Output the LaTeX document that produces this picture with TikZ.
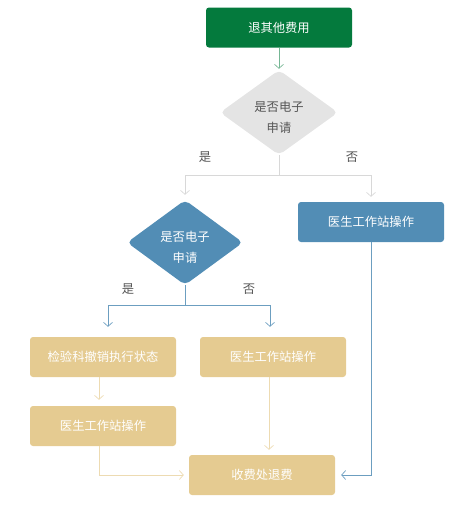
\documentclass[tikz,border=0pt]{standalone}
\usepackage{fontspec}
\newfontfamily\cjk{Noto Sans CJK SC}
\usetikzlibrary{positioning,arrows.meta,calc,shapes.geometric}
\definecolor{fGreen}{HTML}{047A3D}
\definecolor{fGray}{HTML}{E4E4E4}
\definecolor{fBlue}{HTML}{528DB5}
\definecolor{fGold}{HTML}{E5CB91}
\definecolor{fText}{HTML}{555555}
\tikzset{
 boxnode/.style={rounded corners=3pt, minimum width=146pt, minimum height=40pt, inner sep=0pt, text=white, font=\cjk\fontsize{12.3}{20}\selectfont},
 decnode/.style={diamond, rounded corners=5pt, minimum width=118pt, minimum height=85pt, inner sep=0pt},
 dectext/.style={align=center, inner sep=0pt, font=\cjk\fontsize{12.3}{21}\selectfont},
 lbl/.style={text=fText, font=\cjk\fontsize{12.3}{14}\selectfont},
 link/.style={-{Straight Barb[length=4pt,width=9pt]}, line width=0.7pt},
}

\begin{document}
\begin{tikzpicture}[x=1pt, y=-1pt]
\useasboundingbox (0,0) rectangle (471,515);
% top part
\node[boxnode, fill=fGreen] (start) at (279,27.5) {退其他费用};
\node[decnode, fill=fGray] (ask1) at (279,112.5) {};
\node[dectext, text=fText] (ask1t) at ($(ask1)+(0,5)$) {是否电子\\申请};
\node[decnode, fill=fBlue, minimum width=116pt] (ask2) at (185,242.5) {};
\node[dectext, text=white] (ask2t) at ($(ask2)+(0,5)$) {是否电子\\申请};
\node[boxnode, fill=fBlue] (docA) at (371,222) {医生工作站操作};
% lower part
\node[boxnode, fill=fGold] (lab) at (103,357) {检验科撤销执行状态};
\node[boxnode, fill=fGold] (docB) at (273,357) {医生工作站操作};
\node[boxnode, fill=fGold] (docC) at (103,426) {医生工作站操作};
\node[boxnode, fill=fGold] (cash) at (262,475) {收费处退费};
% branch labels
\node[lbl] (yes1) at (205,157) {是};
\node[lbl] (no1) at (352,157) {否};
\node[lbl] (yes2) at (128,289) {是};
\node[lbl] (no2) at (249,289) {否};
% connectors
\draw[link, fGreen!55, shorten >=1pt] (start) -- (ask1);
\draw[link, fGray!95!black, shorten >=5pt] (ask1.south) -- ++(0,20) -| (ask2.north);
\draw[link, fGray!95!black, shorten >=5pt] (ask1.south) -- ++(0,20) -| (docA.north);
\draw[link, fBlue!85, shorten >=10pt] (ask2.south) -- ++(0,20) -| ([xshift=5pt]lab.north);
\draw[link, fBlue!85, shorten >=10pt] (ask2.south) -- ++(0,20) -| ([xshift=-3pt]docB.north);
\draw[link, fGold!70, shorten >=6pt] ([xshift=-4pt]lab.south) -- ([xshift=-4pt]docC.north);
\draw[link, fGold!70, shorten >=5pt] ([xshift=-4pt]docB.south) -- ([xshift=-4pt]docB.south |- cash.north);
\draw[link, fGold!70, shorten >=5pt] ([xshift=-4pt]docC.south) |- (cash.west);
\draw[link, fBlue!85, shorten >=6pt] (docA.south) |- (cash.east);
\end{tikzpicture}
\end{document}
